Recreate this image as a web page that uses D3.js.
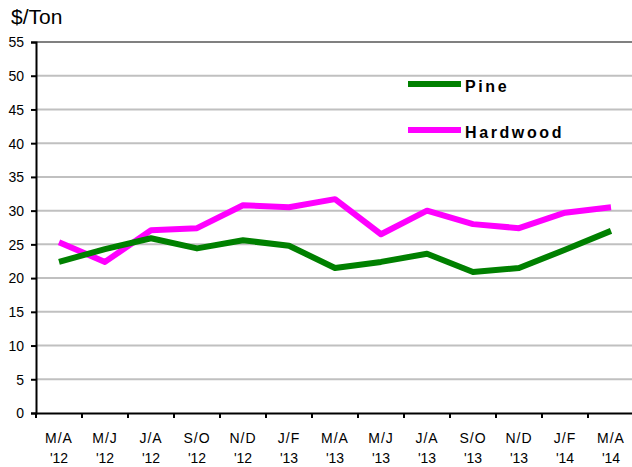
<!DOCTYPE html>
<meta charset="utf-8" />
<style>
  body { margin: 0; background: #fff; }
  #chart { width: 632px; height: 467px; }
  text { font-family: "Liberation Sans", Arial, sans-serif; fill: #000; }
  .grid line { stroke: #c0c0c0; stroke-width: 2; }
  .series { fill: none; stroke-width: 6; stroke-linejoin: round; }
</style>
<body>
  <div id="chart"></div>
  <script src="https://cdn.jsdelivr.net/npm/d3@7"></script>
  <script>
    const periods = ["M/A", "M/J", "J/A", "S/O", "N/D", "J/F", "M/A", "M/J", "J/A", "S/O", "N/D", "J/F", "M/A"];
    const years = ["'12", "'12", "'12", "'12", "'12", "'13", "'13", "'13", "'13", "'13", "'13", "'14", "'14"];
    const pine = [22.4, 24.3, 25.9, 24.4, 25.6, 24.8, 21.5, 22.4, 23.6, 20.9, 21.5, 24.2, 27.0];
    const hardwood = [25.3, 22.4, 27.1, 27.4, 30.8, 30.5, 31.7, 26.5, 30.0, 28.0, 27.4, 29.7, 30.5];
    const yTicks = [0, 5, 10, 15, 20, 25, 30, 35, 40, 45, 50, 55];

    const width = 632, height = 467;
    const margin = { left: 36, right: -2, top: 42, bottom: 54 };

    const svg = d3.select("#chart").append("svg")
      .attr("width", width).attr("height", height);

    const x = d3.scaleBand()
      .domain(d3.range(periods.length))
      .range([margin.left, width - margin.right]);

    const y = d3.scaleLinear()
      .domain([0, 55])
      .range([height - margin.bottom, margin.top]);

    // gridlines
    svg.append("g").attr("class", "grid")
      .selectAll("line")
      .data(yTicks.filter(d => d > 0))
      .join("line")
      .attr("x1", margin.left).attr("x2", width)
      .attr("y1", d => y(d)).attr("y2", d => y(d))
      .style("stroke", d => d === 55 ? "#808080" : null);

    // y axis
    const yAxis = svg.append("g")
      .attr("transform", `translate(${margin.left},0)`)
      .call(d3.axisLeft(y).tickValues(yTicks).tickSize(5).tickPadding(7));
    yAxis.select(".domain").attr("stroke", "#000").attr("stroke-width", 2);
    yAxis.selectAll(".tick line").attr("stroke", "#000").attr("stroke-width", 2);
    yAxis.selectAll(".tick text").style("font-size", "14px").attr("dy", "0.35em");

    // x axis
    const xAxis = svg.append("g")
      .attr("transform", `translate(0,${y(0)})`)
      .call(d3.axisBottom(x).tickSize(0).tickFormat(""));
    xAxis.select(".domain").attr("stroke", "#000").attr("stroke-width", 2);

    const bounds = periods.map((d, i) => x(i)).concat([x(periods.length - 1) + x.bandwidth()]);
    xAxis.selectAll(".sep")
      .data(bounds)
      .join("line")
      .attr("class", "sep")
      .attr("x1", d => d).attr("x2", d => d)
      .attr("y1", 0).attr("y2", 5)
      .attr("stroke", "#000").attr("stroke-width", 2);

    const labels = svg.append("g");
    labels.selectAll(".per")
      .data(periods)
      .join("text")
      .attr("class", "per")
      .attr("x", (d, i) => x(i) + x.bandwidth() / 2)
      .attr("y", 443)
      .attr("text-anchor", "middle")
      .style("font-size", "14px")
      .style("letter-spacing", "1px")
      .text(d => d);
    labels.selectAll(".yr")
      .data(years)
      .join("text")
      .attr("class", "yr")
      .attr("x", (d, i) => x(i) + x.bandwidth() / 2)
      .attr("y", 463)
      .attr("text-anchor", "middle")
      .style("font-size", "14px")
      .text(d => d);

    svg.append("text")
      .attr("x", 11).attr("y", 24)
      .style("font-size", "21px")
      .text("$/Ton");

    const line = d3.line()
      .x((d, i) => x(i) + x.bandwidth() / 2)
      .y(d => y(d));

    svg.append("path").datum(hardwood)
      .attr("class", "series").attr("stroke", "#ff00ff").attr("d", line);
    svg.append("path").datum(pine)
      .attr("class", "series").attr("stroke", "#008000").attr("d", line);

    // legend
    const legend = [
      { name: "Pine", color: "#008000", y: 84 },
      { name: "Hardwood", color: "#ff00ff", y: 130 }
    ];
    const lg = svg.append("g");
    lg.selectAll("line")
      .data(legend)
      .join("line")
      .attr("x1", 408).attr("x2", 461)
      .attr("y1", d => d.y).attr("y2", d => d.y)
      .attr("stroke", d => d.color).attr("stroke-width", 6);
    lg.selectAll("text")
      .data(legend)
      .join("text")
      .attr("x", 465).attr("y", d => d.y + 7.5)
      .style("font-size", "16px")
      .style("font-weight", "bold")
      .style("letter-spacing", "2.6px")
      .text(d => d.name);
  </script>
</body>
